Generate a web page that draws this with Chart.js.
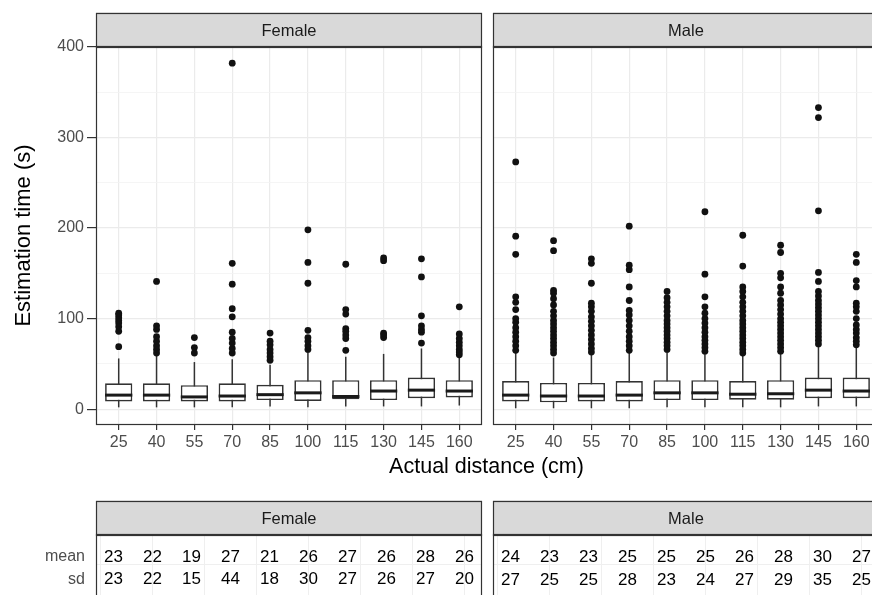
<!DOCTYPE html>
<html>
<head>
<meta charset="utf-8">
<script src="https://cdn.jsdelivr.net/npm/chart.js@4.4.1/dist/chart.umd.min.js"></script>
<style>
  html, body { margin: 0; padding: 0; background: #fff; overflow: hidden; width: 872px; height: 595px; }
  .panel { position: absolute; }
  #xtitle { position: absolute; left: 0; width: 973px; top: 454px; line-height: 26px; text-align: center;
            font: 21.5px "Liberation Sans", Arial, sans-serif; color: #000; }
</style>
</head>
<body>
<div class="panel" style="left:0;top:0;width:488px;height:480px"><canvas id="boxFemale" width="488" height="480"></canvas></div>
<div class="panel" style="left:487px;top:0;width:400px;height:480px"><canvas id="boxMale" width="400" height="480"></canvas></div>
<div id="xtitle">Actual distance (cm)</div>
<div class="panel" style="left:0;top:480px;width:488px;height:150px"><canvas id="tabFemale" width="488" height="150"></canvas></div>
<div class="panel" style="left:487px;top:480px;width:400px;height:150px"><canvas id="tabMale" width="400" height="150"></canvas></div>
<script>
// categories
const distances = [25, 40, 55, 70, 85, 100, 115, 130, 145, 160];
const yBreaks = [0, 50, 100, 150, 200, 250, 300, 350, 400];
const tableBreaks = [20, 40, 60, 80, 100, 120, 140, 160];
const rowNames = ["mean", "sd"];

// Female boxes (s)
const femaleLow = [2, 2, 2, 2, 3, 2, 3, 3, 3, 4];
const femaleQ1 = [8.5, 8.5, 8.5, 8.5, 10, 9, 11, 10, 12, 13];
const femaleMedian = [15.5, 15.5, 13.5, 14.5, 16, 18, 14, 20, 21, 20];
const femaleQ3 = [28.5, 28.5, 26.5, 28.5, 27, 32, 32, 32, 35, 32];
const femaleHigh = [56, 61, 52, 55, 49, 63, 58, 61, 67, 58];
const femaleOutliers = [
  [69, 86, 91, 95, 98, 101, 104, 106],
  [62, 66, 70, 75, 80, 88, 92, 141],
  [62, 68, 79],
  [62, 67, 73, 78, 85, 102, 111, 138, 161, 382],
  [54, 58, 62, 66, 71, 75, 84],
  [66, 70, 75, 79, 87, 139, 162, 198],
  [65, 78, 82, 86, 89, 105, 110, 160],
  [79, 82, 84, 164, 167],
  [73, 85, 88, 92, 103, 146, 166],
  [60, 63, 66, 70, 74, 78, 83, 113]
];

// Male boxes (s)
const maleLow = [1, 1, 1, 1, 2, 2, 2, 2, 3, 3];
const maleQ1 = [8.5, 7.5, 8.5, 8.5, 10, 10, 10.5, 10.5, 12, 12];
const maleMedian = [15.5, 14.5, 14.5, 15.5, 18, 18, 16.5, 17, 21, 20];
const maleQ3 = [31, 29, 29, 31, 32, 32, 31, 32, 35, 35];
const maleHigh = [62, 57, 60, 62, 63, 62, 60, 63, 69, 68];
const maleOutliers = [
  [65, 70, 75, 80, 85, 90, 96, 100, 110, 118, 124, 171, 191, 273],
  [62, 66, 70, 74, 78, 82, 86, 90, 94, 98, 103, 108, 115, 122, 128, 131, 175, 186],
  [63, 67, 72, 77, 82, 87, 92, 97, 102, 108, 113, 117, 139, 161, 166],
  [65, 70, 75, 80, 86, 92, 98, 104, 109, 120, 135, 154, 159, 202],
  [66, 70, 74, 78, 82, 86, 90, 94, 98, 103, 108, 113, 118, 123, 130],
  [64, 68, 72, 76, 80, 85, 90, 95, 100, 106, 113, 124, 149, 218],
  [62, 66, 70, 74, 78, 82, 86, 90, 94, 98, 103, 108, 113, 118, 124, 130, 135, 158, 192],
  [64, 68, 72, 76, 80, 84, 88, 92, 96, 100, 105, 110, 115, 120, 128, 135, 145, 150, 173, 181],
  [72, 76, 80, 84, 88, 92, 96, 100, 104, 108, 112, 116, 120, 125, 130, 141, 151, 219, 322, 333],
  [71, 75, 79, 84, 88, 93, 100, 108, 113, 117, 135, 142, 162, 171]
];

// summary table
const femaleMean = [23, 22, 19, 27, 21, 26, 27, 26, 28, 26];
const femaleSd = [23, 22, 15, 44, 18, 30, 27, 26, 27, 20];
const maleMean = [24, 23, 23, 25, 25, 25, 26, 28, 30, 27];
const maleSd = [27, 25, 25, 28, 23, 24, 27, 29, 35, 25];

Chart.defaults.font.family = '"Liberation Sans", Arial, sans-serif';
Chart.defaults.animation = false;

// strip on top of each facet + panel border
const stripPlugin = {
  id: "strip",
  afterDraw(chart, args, opts) {
    const { ctx, chartArea: a } = chart;
    ctx.save();
    ctx.fillStyle = "#D9D9D9";
    ctx.fillRect(a.left, opts.top, a.right - a.left, a.top - opts.top);
    ctx.strokeStyle = "#333333";
    ctx.lineWidth = 1.2;
    ctx.strokeRect(Math.round(a.left) + 0.5, Math.round(opts.top) + 0.5, Math.round(a.right - a.left) - 1, Math.round(a.top - opts.top));
    ctx.strokeRect(Math.round(a.left) + 0.5, Math.round(a.top) + 0.5, Math.round(a.right - a.left) - 1, Math.round(a.bottom - a.top) - 1);
    ctx.fillStyle = "#1A1A1A";
    ctx.font = '16.5px "Liberation Sans", Arial, sans-serif';
    ctx.textAlign = "center";
    ctx.textBaseline = "middle";
    ctx.fillText(opts.text, (a.left + a.right) / 2, (opts.top + a.top) / 2 + 2);
    ctx.restore();
  }
};

// whiskers under the boxes, medians over them
const boxPlugin = {
  id: "boxparts",
  beforeDatasetsDraw(chart) {
    const ds = chart.data.datasets[1];
    const meta = chart.getDatasetMeta(1);
    const y = chart.scales.y;
    const { ctx } = chart;
    ctx.save();
    ctx.strokeStyle = "#333333";
    ctx.lineWidth = 1.5;
    meta.data.forEach((bar, i) => {
      ctx.beginPath();
      ctx.moveTo(bar.x, y.getPixelForValue(ds.low[i]));
      ctx.lineTo(bar.x, y.getPixelForValue(ds.high[i]));
      ctx.stroke();
    });
    ctx.restore();
  },
  afterDatasetsDraw(chart) {
    const ds = chart.data.datasets[1];
    const meta = chart.getDatasetMeta(1);
    const y = chart.scales.y;
    const { ctx } = chart;
    ctx.save();
    ctx.strokeStyle = "#1A1A1A";
    ctx.lineWidth = 3;
    meta.data.forEach((bar, i) => {
      const py = y.getPixelForValue(ds.median[i]);
      ctx.beginPath();
      ctx.moveTo(bar.x - bar.width / 2, py);
      ctx.lineTo(bar.x + bar.width / 2, py);
      ctx.stroke();
    });
    ctx.restore();
  }
};

// numbers of the table
const textPlugin = {
  id: "celltext",
  afterDatasetsDraw(chart) {
    const { ctx } = chart;
    ctx.save();
    ctx.fillStyle = "#000";
    ctx.font = '17px "Liberation Sans", Arial, sans-serif';
    ctx.textAlign = "center";
    ctx.textBaseline = "middle";
    chart.data.datasets.forEach((ds, d) => {
      chart.getDatasetMeta(d).data.forEach((pt, i) => {
        ctx.fillText(String(ds.texts[i]), pt.x, pt.y);
      });
    });
    ctx.restore();
  }
};

function boxChart(id, label, low, q1, median, q3, high, outliers, showY) {
  const points = [];
  outliers.forEach((vals, i) => vals.forEach(v => points.push({ x: i + 1, y: v })));

  new Chart(document.getElementById(id), {
    type: "bar",
    data: {
      datasets: [
        {
          type: "scatter",
          data: points,
          pointRadius: 3.4,
          pointBackgroundColor: "#111",
          pointBorderWidth: 0,
          order: 0
        },
        {
          type: "bar",
          data: q1.map((v, i) => ({ x: i + 1, y: [v, q3[i]] })),
          backgroundColor: "#fff",
          borderColor: "#333",
          borderWidth: 1.7,
          borderSkipped: false,
          barPercentage: 0.72,
          categoryPercentage: 1,
          order: 1,
          low: low,
          high: high,
          median: median
        }
      ]
    },
    options: {
      responsive: false,
      layout: { padding: { top: 46, right: showY ? 6 : 8, left: 0, bottom: 0 } },
      plugins: {
        legend: { display: false },
        tooltip: { enabled: false },
        strip: { top: 12.5, text: label }
      },
      scales: {
        x: {
          type: "linear",
          min: 0.4,
          max: 10.6,
          offset: false,
          afterBuildTicks: s => { s.ticks = distances.map((d, i) => ({ value: i + 1 })); },
          afterFit: s => { s.height = 55; },
          ticks: {
            callback: v => distances[v - 1],
            color: "#4D4D4D",
            font: { size: 16 },
            padding: 3,
            maxRotation: 0,
            autoSkip: false
          },
          grid: { offset: false, color: "#EBEBEB", lineWidth: 1.2, tickColor: "#333", tickLength: 5 },
          border: { display: false }
        },
        y: {
          type: "linear",
          min: -17.5,
          max: 401,
          afterBuildTicks: s => { s.ticks = yBreaks.map(v => ({ value: v })); },
          afterFit: s => { s.width = showY ? 96 : 6; },
          ticks: {
            display: showY,
            callback: v => (v % 100 === 0 ? v : ""),
            color: "#4D4D4D",
            font: { size: 16 },
            padding: 3
          },
          grid: {
            color: c => (c.tick.value % 100 === 0 ? "#EBEBEB" : "#F3F3F3"),
            lineWidth: c => (c.tick.value % 100 === 0 ? 1.2 : 0.8),
            tickColor: c => (c.tick.value % 100 === 0 ? "#333" : "rgba(0,0,0,0)"),
            drawTicks: showY,
            tickLength: 9
          },
          border: { display: false },
          title: {
            display: showY,
            text: "Estimation time (s)",
            color: "#000",
            font: { size: 22, lineHeight: 1.2 },
            padding: { top: 11, bottom: 0 }
          }
        }
      }
    },
    plugins: [stripPlugin, boxPlugin]
  });
}

function tableChart(id, label, means, sds, showY) {
  new Chart(document.getElementById(id), {
    type: "scatter",
    data: {
      datasets: [
        { data: distances.map(d => ({ x: d, y: 2 })), texts: means, pointRadius: 0 },
        { data: distances.map(d => ({ x: d, y: 1 })), texts: sds, pointRadius: 0 }
      ]
    },
    options: {
      responsive: false,
      layout: { padding: { top: 54, right: showY ? 6 : 8, left: 0, bottom: 20 } },
      plugins: {
        legend: { display: false },
        tooltip: { enabled: false },
        strip: { top: 20.5, text: label }
      },
      scales: {
        x: {
          type: "linear",
          min: 18.25,
          max: 166.75,
          afterBuildTicks: s => { s.ticks = tableBreaks.map(v => ({ value: v })); },
          afterFit: s => { s.height = 0; },
          ticks: { display: false },
          grid: { color: "#EFEFEF", lineWidth: 1, drawTicks: false },
          border: { display: false }
        },
        y: {
          type: "linear",
          min: -0.304,
          max: 3.0,
          afterBuildTicks: s => { s.ticks = [1, 1.68, 2].map(v => ({ value: v })); },
          afterFit: s => { s.width = showY ? 96 : 6; },
          ticks: {
            display: showY,
            callback: v => (v === 2 ? rowNames[0] : v === 1 ? rowNames[1] : ""),
            color: "#4D4D4D",
            font: { size: 16 },
            padding: 11
          },
          grid: {
            color: c => (c.tick.value === 1.68 ? "#EFEFEF" : "rgba(0,0,0,0)"),
            drawTicks: false
          },
          border: { display: false }
        }
      }
    },
    plugins: [stripPlugin, textPlugin]
  });
}

boxChart("boxFemale", "Female", femaleLow, femaleQ1, femaleMedian, femaleQ3, femaleHigh, femaleOutliers, true);
boxChart("boxMale", "Male", maleLow, maleQ1, maleMedian, maleQ3, maleHigh, maleOutliers, false);
tableChart("tabFemale", "Female", femaleMean, femaleSd, true);
tableChart("tabMale", "Male", maleMean, maleSd, false);
</script>
</body>
</html>
